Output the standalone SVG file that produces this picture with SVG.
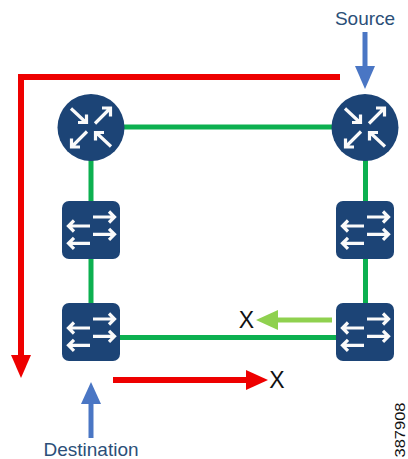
<svg xmlns="http://www.w3.org/2000/svg" width="408" height="459" viewBox="0 0 408 459">
<style>
.t{font-family:"Liberation Sans",Arial,sans-serif}
.lbl{font-size:19px;fill:#2b4f78;text-anchor:middle}
.x{font-size:23px;fill:#111;text-anchor:middle}
.g{fill:none;stroke:#0cb050;stroke-width:5}
.r{fill:none;stroke:#ee0000;stroke-width:6}
.sw{fill:#1c4476}
.rt{fill:#1c4476}
.ar{fill:none;stroke:#fafafa;stroke-width:3.200}
</style>
<defs>
<g id="router">
<circle class="rt" r="33.500"/>
<path class="ar" d="M-20-19L-5-5M-13-5H-4.500V-13"/>
<path class="ar" d="M4-4L19-19M11-19.500H19.500V-11"/>
<path class="ar" d="M-4 4L-19 19M-11 19.500H-19.500V11"/>
<path class="ar" d="M20 19L5 5M13 5H4.500V13"/>
</g>
<g id="switch">
<rect class="sw" x="-29" y="-29" width="58" height="58" rx="7"/>
<path class="ar" d="M2-13H23M18-18.500L23.500-13L18-7.500"/>
<path class="ar" d="M2 4.300H23M18-1.200L23.500 4.300L18 9.800"/>
<path class="ar" d="M-1-4H-22M-17-9.500L-22.500-4L-17 1.500"/>
<path class="ar" d="M-1 13.300H-22M-17 7.800L-22.500 13.300L-17 18.800"/>
</g>
</defs>
<g id="connectors">
<path class="g" d="M91 127H365"/>
<path class="g" d="M91 127V332"/>
<path class="g" d="M365.500 127V332"/>
<path class="g" d="M91 337.500H365"/>
<path class="r" d="M340 77H21V356"/>
<path fill="#ee0000" d="M11 355H31L21 378Z"/>
<path fill="none" stroke="#4a76c4" stroke-width="5" d="M365 32V68"/>
<path fill="#4a76c4" d="M355 66H375L365 89Z"/>
<path fill="none" stroke="#4a76c4" stroke-width="5" d="M91 438V402"/>
<path fill="#4a76c4" d="M81 404H101L91 382Z"/>
<path fill="none" stroke="#8fd14f" stroke-width="5" d="M332 320H276"/>
<path fill="#8fd14f" d="M278 310V330L256 320Z"/>
<path class="r" d="M113 380H248"/>
<path fill="#ee0000" d="M246 370V390L268 380Z"/>
</g>
<g id="router-left"><use href="#router" x="91" y="127.500"/></g>
<g id="router-right"><use href="#router" x="365" y="127.500"/></g>
<g id="switch-left-upper"><use href="#switch" x="91" y="230"/></g>
<g id="switch-right-upper"><use href="#switch" x="365" y="230"/></g>
<g id="switch-left-lower"><use href="#switch" x="91" y="332"/></g>
<g id="switch-right-lower"><use href="#switch" x="365" y="332"/></g>
<g id="labels">
<text class="t lbl" x="365" y="25">Source</text>
<text class="t lbl" x="91" y="456">Destination</text>
<text class="t x" x="246.500" y="328">X</text>
<text class="t x" x="277" y="388">X</text>
<text class="t" font-size="14.500" fill="#111" textLength="55" lengthAdjust="spacingAndGlyphs" transform="translate(405 457.500) rotate(-90)">387908</text>
</g>
</svg>
